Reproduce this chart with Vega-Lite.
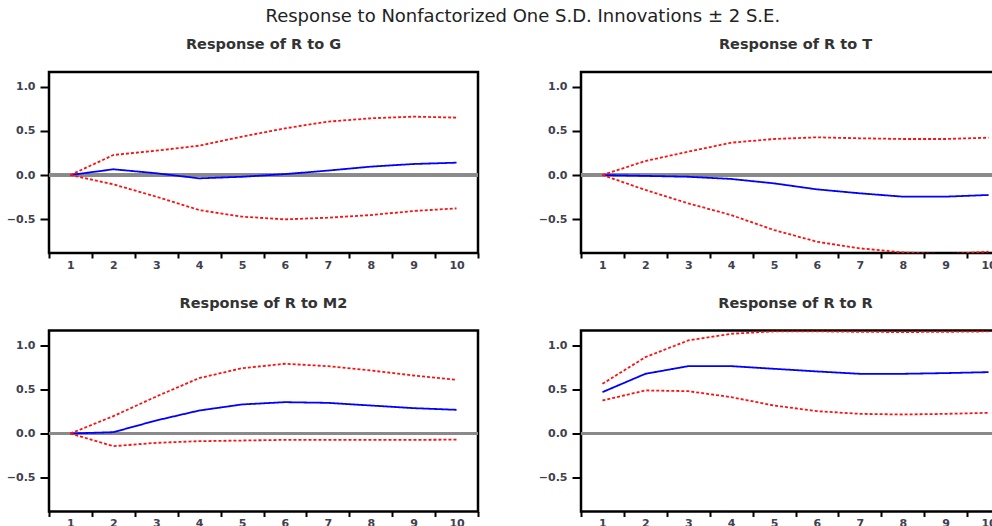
{
  "$schema": "https://vega.github.io/schema/vega-lite/v6.json",
  "background": "white",
  "padding": {"left": 5, "top": 8, "right": 5, "bottom": 5},
  "title": {"text": "Response to Nonfactorized One S.D. Innovations ± 2 S.E.", "font": "DejaVu Sans", "fontSize": 18, "fontWeight": "normal", "color": "#222", "anchor": "middle", "offset": 9.5, "dx": 14},
  "data": {"values": [
    {"panel": "G", "period": 1, "resp": 0, "upper": 0, "lower": 0},
    {"panel": "G", "period": 2, "resp": 0.065, "upper": 0.227, "lower": -0.106},
    {"panel": "G", "period": 3, "resp": 0.02, "upper": 0.276, "lower": -0.246},
    {"panel": "G", "period": 4, "resp": -0.038, "upper": 0.333, "lower": -0.398},
    {"panel": "G", "period": 5, "resp": -0.02, "upper": 0.436, "lower": -0.473},
    {"panel": "G", "period": 6, "resp": 0.01, "upper": 0.53, "lower": -0.504},
    {"panel": "G", "period": 7, "resp": 0.05, "upper": 0.606, "lower": -0.485},
    {"panel": "G", "period": 8, "resp": 0.095, "upper": 0.644, "lower": -0.455},
    {"panel": "G", "period": 9, "resp": 0.125, "upper": 0.663, "lower": -0.409},
    {"panel": "G", "period": 10, "resp": 0.14, "upper": 0.652, "lower": -0.379},
    {"panel": "T", "period": 1, "resp": 0, "upper": 0, "lower": 0},
    {"panel": "T", "period": 2, "resp": -0.01, "upper": 0.159, "lower": -0.17},
    {"panel": "T", "period": 3, "resp": -0.02, "upper": 0.265, "lower": -0.322},
    {"panel": "T", "period": 4, "resp": -0.045, "upper": 0.367, "lower": -0.455},
    {"panel": "T", "period": 5, "resp": -0.095, "upper": 0.409, "lower": -0.625},
    {"panel": "T", "period": 6, "resp": -0.163, "upper": 0.428, "lower": -0.758},
    {"panel": "T", "period": 7, "resp": -0.208, "upper": 0.417, "lower": -0.833},
    {"panel": "T", "period": 8, "resp": -0.246, "upper": 0.409, "lower": -0.879},
    {"panel": "T", "period": 9, "resp": -0.246, "upper": 0.409, "lower": -0.9},
    {"panel": "T", "period": 10, "resp": -0.227, "upper": 0.424, "lower": -0.871},
    {"panel": "M2", "period": 1, "resp": 0, "upper": 0, "lower": 0},
    {"panel": "M2", "period": 2, "resp": 0.015, "upper": 0.197, "lower": -0.144},
    {"panel": "M2", "period": 3, "resp": 0.148, "upper": 0.42, "lower": -0.106},
    {"panel": "M2", "period": 4, "resp": 0.261, "upper": 0.629, "lower": -0.087},
    {"panel": "M2", "period": 5, "resp": 0.33, "upper": 0.742, "lower": -0.08},
    {"panel": "M2", "period": 6, "resp": 0.356, "upper": 0.792, "lower": -0.072},
    {"panel": "M2", "period": 7, "resp": 0.348, "upper": 0.765, "lower": -0.072},
    {"panel": "M2", "period": 8, "resp": 0.318, "upper": 0.716, "lower": -0.072},
    {"panel": "M2", "period": 9, "resp": 0.288, "upper": 0.659, "lower": -0.072},
    {"panel": "M2", "period": 10, "resp": 0.269, "upper": 0.61, "lower": -0.07},
    {"panel": "R", "period": 1, "resp": 0.47, "upper": 0.564, "lower": 0.375},
    {"panel": "R", "period": 2, "resp": 0.678, "upper": 0.867, "lower": 0.489},
    {"panel": "R", "period": 3, "resp": 0.765, "upper": 1.057, "lower": 0.481},
    {"panel": "R", "period": 4, "resp": 0.765, "upper": 1.133, "lower": 0.413},
    {"panel": "R", "period": 5, "resp": 0.735, "upper": 1.16, "lower": 0.318},
    {"panel": "R", "period": 6, "resp": 0.705, "upper": 1.16, "lower": 0.254},
    {"panel": "R", "period": 7, "resp": 0.678, "upper": 1.155, "lower": 0.223},
    {"panel": "R", "period": 8, "resp": 0.678, "upper": 1.152, "lower": 0.216},
    {"panel": "R", "period": 9, "resp": 0.686, "upper": 1.155, "lower": 0.223},
    {"panel": "R", "period": 10, "resp": 0.697, "upper": 1.16, "lower": 0.235}
  ]},
  "transform": [{"fold": ["resp", "upper", "lower"], "as": ["series", "value"]}],
  "columns": 2,
  "spacing": {"row": 21.5, "column": 56},
  "concat": [
    {
      "title": "Response of R to G",
      "transform": [{"filter": "datum.panel == 'G'"}],
      "width": 429, "height": 181,
      "layer": [
        {"mark": {"type": "rule", "color": "#8a8a8a", "strokeWidth": 2.5}, "encoding": {"y": {"datum": 0, "type": "quantitative"}}},
        {"mark": {"type": "line", "strokeWidth": 1.8, "clip": true}, "encoding": {
          "x": {"field": "period", "type": "ordinal", "scale": {"type": "band", "paddingInner": 0, "paddingOuter": 0}, "axis": {"title": null, "tickBand": "extent", "labelAngle": 0, "domain": false, "tickSize": 5, "tickWidth": 2, "tickColor": "black", "labelFont": "DejaVu Sans", "labelFontSize": 11, "labelFontWeight": "bold", "labelColor": "#404050", "labelPadding": 1}},
          "y": {"field": "value", "type": "quantitative", "scale": {"domain": [-0.886, 1.17], "nice": false, "zero": false}, "axis": {"title": null, "values": [-0.5, 0, 0.5, 1], "format": ".1f", "grid": false, "domain": false, "tickSize": 9, "tickWidth": 2, "tickColor": "black", "labelFont": "DejaVu Sans", "labelFontSize": 11, "labelFontWeight": "bold", "labelColor": "#404050", "labelPadding": 5, "minExtent": 42, "maxExtent": 42}},
          "detail": {"field": "series"},
          "color": {"field": "series", "scale": {"domain": ["resp", "upper", "lower"], "range": ["#0000ff", "#ff1010", "#ff1010"]}, "legend": null},
          "strokeDash": {"field": "series", "scale": {"domain": ["resp", "upper", "lower"], "range": [[1, 0], [3, 2], [3, 2]]}, "legend": null}
        }}
      ]
    },
    {
      "title": "Response of R to T",
      "transform": [{"filter": "datum.panel == 'T'"}],
      "width": 429, "height": 181,
      "layer": [
        {"mark": {"type": "rule", "color": "#8a8a8a", "strokeWidth": 2.5}, "encoding": {"y": {"datum": 0, "type": "quantitative"}}},
        {"mark": {"type": "line", "strokeWidth": 1.8, "clip": true}, "encoding": {
          "x": {"field": "period", "type": "ordinal", "scale": {"type": "band", "paddingInner": 0, "paddingOuter": 0}, "axis": {"title": null, "tickBand": "extent", "labelAngle": 0, "domain": false, "tickSize": 5, "tickWidth": 2, "tickColor": "black", "labelFont": "DejaVu Sans", "labelFontSize": 11, "labelFontWeight": "bold", "labelColor": "#404050", "labelPadding": 1}},
          "y": {"field": "value", "type": "quantitative", "scale": {"domain": [-0.886, 1.17], "nice": false, "zero": false}, "axis": {"title": null, "values": [-0.5, 0, 0.5, 1], "format": ".1f", "grid": false, "domain": false, "tickSize": 9, "tickWidth": 2, "tickColor": "black", "labelFont": "DejaVu Sans", "labelFontSize": 11, "labelFontWeight": "bold", "labelColor": "#404050", "labelPadding": 5, "minExtent": 42, "maxExtent": 42}},
          "detail": {"field": "series"},
          "color": {"field": "series", "scale": {"domain": ["resp", "upper", "lower"], "range": ["#0000ff", "#ff1010", "#ff1010"]}, "legend": null},
          "strokeDash": {"field": "series", "scale": {"domain": ["resp", "upper", "lower"], "range": [[1, 0], [3, 2], [3, 2]]}, "legend": null}
        }}
      ]
    },
    {
      "title": "Response of R to M2",
      "transform": [{"filter": "datum.panel == 'M2'"}],
      "width": 429, "height": 181,
      "layer": [
        {"mark": {"type": "rule", "color": "#8a8a8a", "strokeWidth": 2.5}, "encoding": {"y": {"datum": 0, "type": "quantitative"}}},
        {"mark": {"type": "line", "strokeWidth": 1.8, "clip": true}, "encoding": {
          "x": {"field": "period", "type": "ordinal", "scale": {"type": "band", "paddingInner": 0, "paddingOuter": 0}, "axis": {"title": null, "tickBand": "extent", "labelAngle": 0, "domain": false, "tickSize": 5, "tickWidth": 2, "tickColor": "black", "labelFont": "DejaVu Sans", "labelFontSize": 11, "labelFontWeight": "bold", "labelColor": "#404050", "labelPadding": 1}},
          "y": {"field": "value", "type": "quantitative", "scale": {"domain": [-0.886, 1.17], "nice": false, "zero": false}, "axis": {"title": null, "values": [-0.5, 0, 0.5, 1], "format": ".1f", "grid": false, "domain": false, "tickSize": 9, "tickWidth": 2, "tickColor": "black", "labelFont": "DejaVu Sans", "labelFontSize": 11, "labelFontWeight": "bold", "labelColor": "#404050", "labelPadding": 5, "minExtent": 42, "maxExtent": 42}},
          "detail": {"field": "series"},
          "color": {"field": "series", "scale": {"domain": ["resp", "upper", "lower"], "range": ["#0000ff", "#ff1010", "#ff1010"]}, "legend": null},
          "strokeDash": {"field": "series", "scale": {"domain": ["resp", "upper", "lower"], "range": [[1, 0], [3, 2], [3, 2]]}, "legend": null}
        }}
      ]
    },
    {
      "title": "Response of R to R",
      "transform": [{"filter": "datum.panel == 'R'"}],
      "width": 429, "height": 181,
      "layer": [
        {"mark": {"type": "rule", "color": "#8a8a8a", "strokeWidth": 2.5}, "encoding": {"y": {"datum": 0, "type": "quantitative"}}},
        {"mark": {"type": "line", "strokeWidth": 1.8, "clip": true}, "encoding": {
          "x": {"field": "period", "type": "ordinal", "scale": {"type": "band", "paddingInner": 0, "paddingOuter": 0}, "axis": {"title": null, "tickBand": "extent", "labelAngle": 0, "domain": false, "tickSize": 5, "tickWidth": 2, "tickColor": "black", "labelFont": "DejaVu Sans", "labelFontSize": 11, "labelFontWeight": "bold", "labelColor": "#404050", "labelPadding": 1}},
          "y": {"field": "value", "type": "quantitative", "scale": {"domain": [-0.886, 1.17], "nice": false, "zero": false}, "axis": {"title": null, "values": [-0.5, 0, 0.5, 1], "format": ".1f", "grid": false, "domain": false, "tickSize": 9, "tickWidth": 2, "tickColor": "black", "labelFont": "DejaVu Sans", "labelFontSize": 11, "labelFontWeight": "bold", "labelColor": "#404050", "labelPadding": 5, "minExtent": 42, "maxExtent": 42}},
          "detail": {"field": "series"},
          "color": {"field": "series", "scale": {"domain": ["resp", "upper", "lower"], "range": ["#0000ff", "#ff1010", "#ff1010"]}, "legend": null},
          "strokeDash": {"field": "series", "scale": {"domain": ["resp", "upper", "lower"], "range": [[1, 0], [3, 2], [3, 2]]}, "legend": null}
        }}
      ]
    }
  ],
  "config": {
    "view": {"stroke": "black", "strokeWidth": 2.5},
    "title": {"font": "DejaVu Sans", "fontSize": 14.5, "fontWeight": "bold", "color": "#333", "offset": 19.5}
  }
}
